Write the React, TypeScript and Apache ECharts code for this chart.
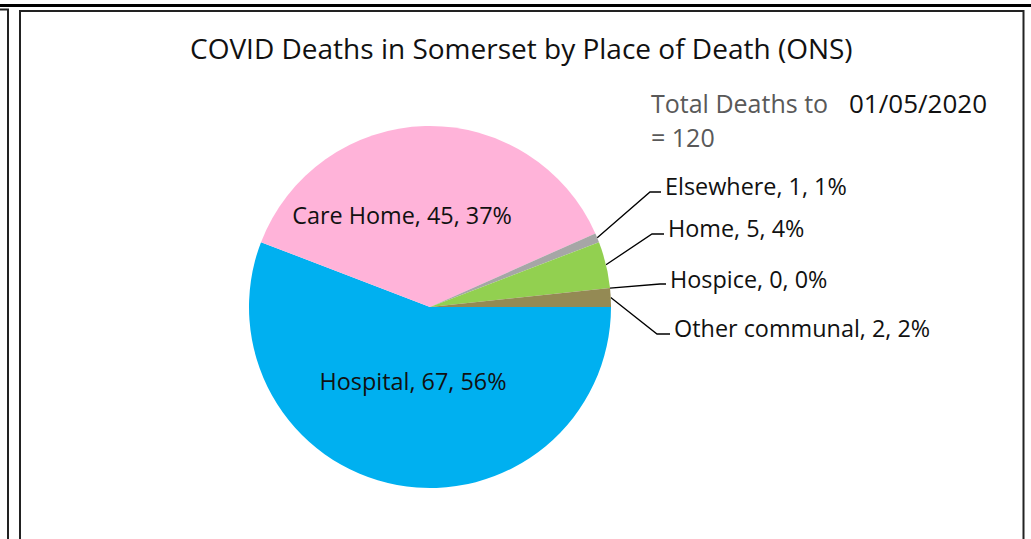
import React, { useEffect, useRef } from "react";
import * as echarts from "echarts";

const categories = ["Hospital", "Care Home", "Elsewhere", "Home", "Hospice", "Other communal"];
const deaths = [67, 45, 1, 5, 0, 2];
const colors = ["#00B0F0", "#FFB3D9", "#A6A6A6", "#92D050", "#7F6084", "#948A54"];
const titleText = "COVID Deaths in Somerset by Place of Death (ONS)";
const totalLabel = "Total Deaths to";
const totalDate = "01/05/2020";

// label placement (layout only)
const labelPlaces: { x: number; y: number; lineDy: number; elbowX: number }[] = [
  { x: 413, y: 381, lineDy: 0, elbowX: 0 },
  { x: 402, y: 215, lineDy: 0, elbowX: 0 },
  { x: 665, y: 186, lineDy: 6, elbowX: 650 },
  { x: 668, y: 228, lineDy: 6, elbowX: 652 },
  { x: 670, y: 279, lineDy: 5, elbowX: 660 },
  { x: 674, y: 328, lineDy: 6, elbowX: 657 },
];

const FONT = "'Open Sans', 'Noto Sans', sans-serif";

export default function App() {
  const ref = useRef<HTMLDivElement>(null);
  useEffect(() => {
    if (!ref.current) return;
    const chart = echarts.init(ref.current, undefined, { renderer: "svg" });
    const total = deaths.reduce((a, b) => a + b, 0);
    chart.setOption({
      animation: false,
      backgroundColor: "#ffffff",
      title: {
        text: titleText,
        left: 190,
        top: 31,
        textStyle: { fontFamily: FONT, fontSize: 28, fontWeight: "normal", color: "#111", lineHeight: 34 },
        padding: 0,
      },
      graphic: [
        { type: "line", shape: { x1: 0, y1: 5.5, x2: 1031, y2: 5.5 }, style: { stroke: "#000", lineWidth: 3 } },
        { type: "rect", shape: { x: -20, y: 9.5, width: 28, height: 600 }, style: { fill: "none", stroke: "#222", lineWidth: 2 } },
        { type: "rect", shape: { x: 20, y: 11, width: 1003.5, height: 600 }, style: { fill: "none", stroke: "#222", lineWidth: 2 } },
        {
          type: "text",
          x: 651,
          y: 103,
          style: { text: totalLabel, fill: "#595959", font: `25px ${FONT}`, textVerticalAlign: "middle" },
        },
        {
          type: "text",
          x: 651,
          y: 137,
          style: { text: "= " + total, fill: "#595959", font: `25px ${FONT}`, textVerticalAlign: "middle" },
        },
        {
          type: "text",
          x: 849,
          y: 103,
          style: { text: totalDate, fill: "#111", font: `26px ${FONT}`, textVerticalAlign: "middle" },
        },
      ],
      series: [
        {
          type: "pie",
          center: [430, 307],
          radius: [0, 181],
          startAngle: 0,
          clockwise: true,
          percentPrecision: 0,
          avoidLabelOverlap: false,
          itemStyle: { borderWidth: 0 },
          label: {
            show: true,
            position: "outside",
            formatter: "{b}, {c}, {d}%",
            fontFamily: FONT,
            fontSize: 23.4,
            color: "#111",
          },
          labelLine: { show: true, length: 20, length2: 10, lineStyle: { color: "#000", width: 1.3 } },
          labelLayout: (params: any) => {
            const p = labelPlaces[params.dataIndex];
            if (params.dataIndex < 2) {
              return { x: p.x, y: p.y, align: "center", verticalAlign: "middle" };
            }
            const start = params.labelLinePoints ? params.labelLinePoints[0] : [p.x, p.y];
            const ly = p.y + p.lineDy;
            return {
              x: p.x,
              y: p.y,
              align: "left",
              verticalAlign: "middle",
              labelLinePoints: [start, [p.elbowX, ly], [p.x - 4, ly]],
            };
          },
          data: categories.map((name, i) => ({
            name,
            value: deaths[i],
            itemStyle: { color: colors[i] },
            label: i < 2 ? { position: "inside" } : {},
            labelLine: i < 2 ? { show: false } : {},
          })),
        },
      ],
    });
    return () => chart.dispose();
  }, []);
  return <div ref={ref} style={{ position: "fixed", left: 0, top: 0, width: 1031, height: 539 }} />;
}
